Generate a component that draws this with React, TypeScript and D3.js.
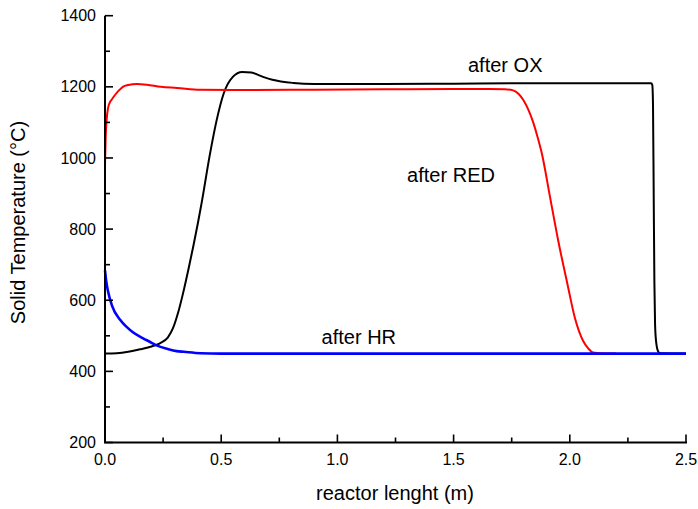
import React from "react";
import * as d3 from "d3";

// after OX (black)
const oxX = [0, 0.05, 0.1, 0.15, 0.2, 0.236, 0.27, 0.293, 0.315, 0.336, 0.36, 0.38, 0.4, 0.417, 0.45, 0.48, 0.51, 0.55, 0.59, 0.63, 0.68, 0.72, 0.81, 0.9, 1.2, 1.5, 1.8, 2.1, 2.3, 2.35, 2.355, 2.358, 2.361, 2.364, 2.367, 2.372, 2.381, 2.39, 2.5];
const oxT = [450, 451, 455, 462, 470, 479, 495, 522, 566, 620, 690, 752, 818, 878, 1005, 1105, 1180, 1228, 1242, 1240, 1228, 1220, 1211, 1208, 1208, 1209, 1210, 1210, 1210, 1210, 1205, 1150, 900, 650, 530, 480, 455, 451, 450];

// after RED (red)
const redX = [0, 0.003, 0.007, 0.013, 0.02, 0.03, 0.043, 0.06, 0.077, 0.1, 0.137, 0.18, 0.24, 0.31, 0.41, 0.6, 0.9, 1.2, 1.5, 1.65, 1.72, 1.756, 1.78, 1.8, 1.82, 1.84, 1.86, 1.88, 1.915, 1.95, 1.99, 2.022, 2.057, 2.08, 2.1, 2.15, 2.2];
const redT = [980, 1060, 1107, 1140, 1155, 1165, 1177, 1190, 1200, 1205, 1208, 1206, 1200, 1197, 1192, 1191, 1192, 1193, 1194, 1194, 1193, 1190, 1180, 1163, 1138, 1105, 1062, 1012, 890, 768, 645, 550, 486, 464, 453, 450, 450];

// after HR (blue)
const hrX = [0, 0.005, 0.013, 0.03, 0.065, 0.093, 0.12, 0.164, 0.19, 0.222, 0.27, 0.308, 0.34, 0.41, 0.5, 1.0, 1.5, 2.0, 2.5];
const hrT = [684, 655, 625, 585, 545, 525, 510, 493, 484, 473, 463, 457, 455, 451, 450, 450, 450, 450, 450];

const yTicks = [200, 400, 600, 800, 1000, 1200, 1400];
const yMinor = [300, 500, 700, 900, 1100, 1300];
const xTicks = [0, 0.5, 1.0, 1.5, 2.0, 2.5];
const xMinor = [0.25, 0.75, 1.25, 1.75, 2.25];

const series = [
  { name: "after OX", xs: oxX, ys: oxT, color: "#000000", width: 2 },
  { name: "after RED", xs: redX, ys: redT, color: "#ff0000", width: 2 },
  { name: "after HR", xs: hrX, ys: hrT, color: "#0000ff", width: 2.6 },
];

const labels = [
  { text: "after OX", x: 1.562, y: 1242 },
  { text: "after RED", x: 1.3, y: 933 },
  { text: "after HR", x: 0.932, y: 477 },
];

export default function App() {
  const x = d3.scaleLinear().domain([0, 2.5]).range([105, 686]);
  const y = d3.scaleLinear().domain([200, 1400]).range([442.5, 15.7]);
  const font = "'Liberation Sans', Arial, sans-serif";
  const line = d3
    .line<[number, number]>()
    .x((d) => x(d[0]))
    .y((d) => y(d[1]))
    .curve(d3.curveMonotoneX);

  return (
    <svg
      width={698}
      height={509}
      style={{ position: "absolute", left: 0, top: 0, background: "#fff" }}
      fontFamily={font}
    >
      <rect width={698} height={509} fill="#fff" />
      {series.map((s) => (
        <path
          key={s.name}
          d={line(s.xs.map((v, i) => [v, s.ys[i]] as [number, number])) || ""}
          fill="none"
          stroke={s.color}
          strokeWidth={s.width}
          strokeLinejoin="round"
        />
      ))}
      {/* axes */}
      <line x1={105} x2={105} y1={y(1400)} y2={y(200)} stroke="#000" strokeWidth={2} />
      <line x1={104} x2={x(2.5) + 1} y1={y(200)} y2={y(200)} stroke="#000" strokeWidth={2} />
      {yTicks.map((t) => (
        <g key={"yt" + t}>
          <line x1={105} x2={113} y1={y(t)} y2={y(t)} stroke="#000" strokeWidth={1.6} />
          <text x={96} y={y(t)} dy="0.35em" textAnchor="end" fontSize={16}>
            {t}
          </text>
        </g>
      ))}
      {yMinor.map((t) => (
        <line key={"ym" + t} x1={105} x2={110} y1={y(t)} y2={y(t)} stroke="#000" strokeWidth={1.6} />
      ))}
      {xTicks.map((t) => (
        <g key={"xt" + t}>
          <line x1={x(t)} x2={x(t)} y1={y(200)} y2={y(200) - 8} stroke="#000" strokeWidth={1.6} />
          <text x={x(t)} y={465} textAnchor="middle" fontSize={16}>
            {t.toFixed(1)}
          </text>
        </g>
      ))}
      {xMinor.map((t) => (
        <line key={"xm" + t} x1={x(t)} x2={x(t)} y1={y(200)} y2={y(200) - 5} stroke="#000" strokeWidth={1.6} />
      ))}
      {/* axis titles */}
      <text x={395} y={500} textAnchor="middle" fontSize={20}>
        reactor lenght (m)
      </text>
      <text
        transform="translate(25,222.5) rotate(-90)"
        textAnchor="middle"
        fontSize={20}
      >
        Solid Temperature (°C)
      </text>
      {labels.map((l) => (
        <text key={l.text} x={x(l.x)} y={y(l.y)} fontSize={20}>
          {l.text}
        </text>
      ))}
    </svg>
  );
}
